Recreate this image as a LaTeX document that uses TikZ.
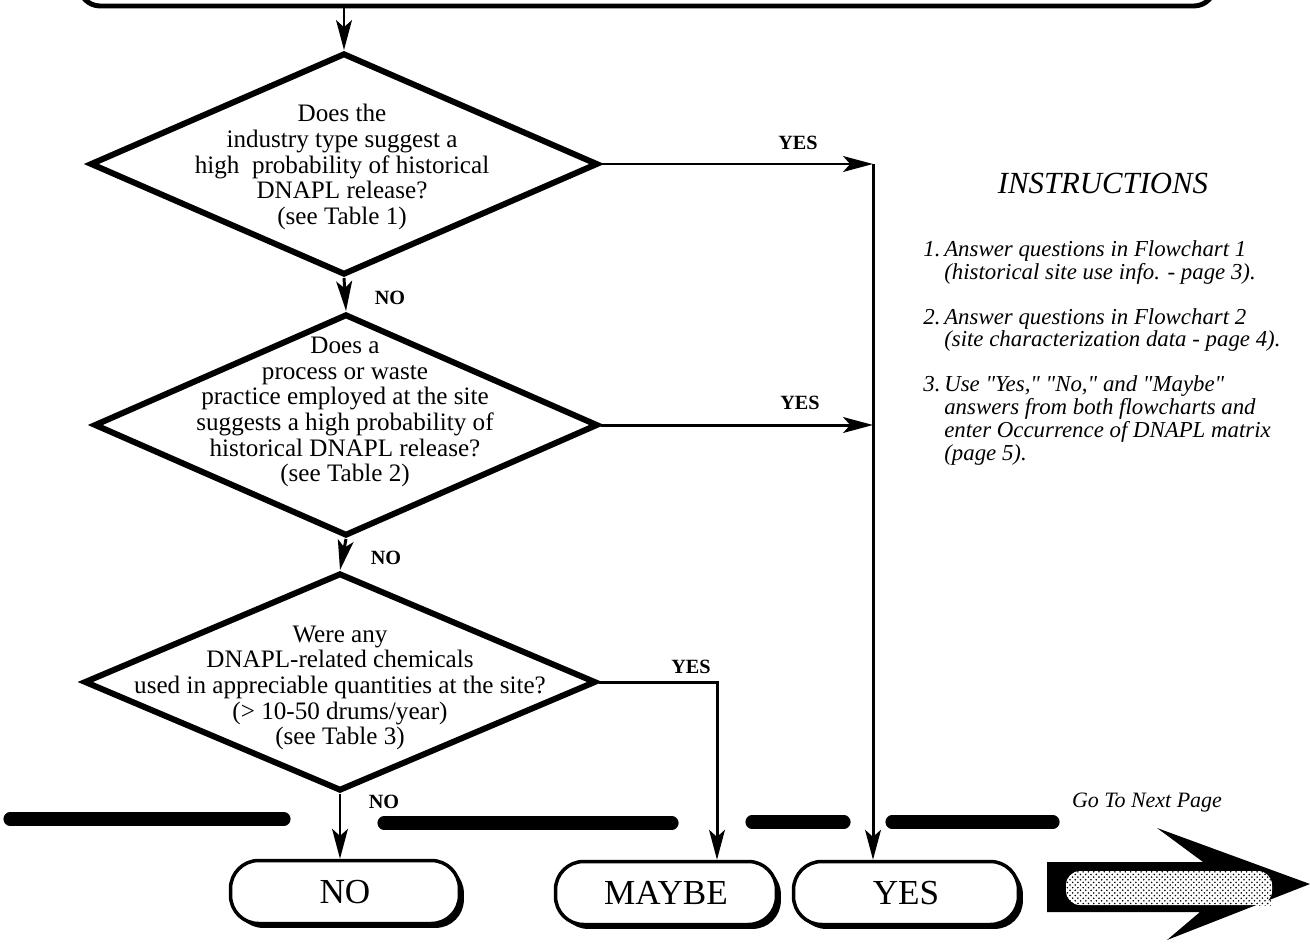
\documentclass[tikz,border=0pt]{standalone}
\usepackage{fontspec}
\setmainfont{Liberation Serif}
\usetikzlibrary{shapes.geometric,arrows.meta,shadows,patterns}

\tikzset{
  decision/.style={diamond, draw, line width=3.4pt, inner sep=0pt},
  qtext/.style={align=center, font=\fontsize{14.3}{14.6}\selectfont},
  outcome/.style={rectangle, rounded corners=16pt, draw, line width=2pt, fill=white,
    minimum height=1.26cm, font=\fontsize{20}{24}\selectfont,
    drop shadow={shadow xshift=2.5pt, shadow yshift=-2.5pt, opacity=1, fill=black}},
  flow/.style={line width=1.7pt, -{Stealth[length=17pt,width=9pt,inset=4pt]}},
  ans/.style={font=\bfseries\fontsize{11.5}{13}\selectfont},
  barseg/.style={line width=7.5pt, line cap=round},
}

\begin{document}
\begin{tikzpicture}[x=0.02cm,y=-0.02cm]

        \useasboundingbox (0,0) rectangle (1310,943);

        % Box at the top (cut off)
        \node[draw, line width=2.8pt, rounded corners=12pt, minimum width=22.72cm,
          minimum height=1.2cm] (start) at (647,-24) {};

        % Decisions
        \node[decision, minimum width=10.16cm, minimum height=4.44cm] (d1) at (344,164) {};
        \node[qtext] (q1) at (342,167) {Does the\\ industry type suggest a\\ high~ probability of historical\\ DNAPL release?\\ (see Table 1)};

        \node[decision, minimum width=10.08cm, minimum height=4.44cm] (d2) at (346,425) {};
        \node[qtext] (q2) at (345,412) {Does a\\ process or waste\\ practice employed at the site\\ suggests a high probability of\\ historical DNAPL release?\\ (see Table 2)};

        \node[decision, minimum width=10.24cm, minimum height=4.36cm] (d3) at (340,682) {};
        \node[qtext] (q3) at (340,688) {Were any\\ DNAPL-related chemicals\\ used in appreciable quantities at the site?\\ (> 10-50 drums/year)\\ (see Table 3)};

        % Outcomes
        \node[outcome, minimum width=4.58cm] (no) at (345,892) {NO};
        \node[outcome, minimum width=4.42cm] (maybe) at (666,893) {MAYBE};
        \node[outcome, minimum width=4.5cm] (yes) at (906,893) {YES};

        % Junctions
        \coordinate (yline) at (873,164);
        \coordinate (mline) at (717,682);

        % Arrows
        \draw[flow] (start.south -| d1.north) -- (d1.north);
        \draw[flow] (d1.south) -- (d2.north);
        \draw[flow] (d2.south) -- (d3.north);
        \draw[flow] (d3.south) -- (d3.south |- no.north);
        \draw[flow] (d1.east) -- (yline);
        \draw[flow] (d2.east) -- (yline |- d2.east);
        \draw[flow] (yline) -- (yline |- yes.north);
        \draw[flow] (d3.east) -- (mline) -- (mline |- maybe.north);

        % Labels
        \node[ans] (no1) at (390,298) {NO};
        \node[ans] (no2) at (386,558) {NO};
        \node[ans] (no3) at (384,802) {NO};
        \node[ans] (yes1) at (798,143) {YES};
        \node[ans] (yes2) at (800,403) {YES};
        \node[ans] (yes3) at (691,667) {YES};

        % Broken bar
        \foreach \xa/\xb/\yy in {10/284/819, 384/672/823, 752/844/822, 892/1053/822}
            \draw[barseg] (\xa,\yy) -- (\xb,\yy);

        % Instructions
        \node[font=\itshape\fontsize{17.5}{19}\selectfont] (instr) at (1103,183) {INSTRUCTIONS};
        \node[anchor=north west, inner sep=0pt, font=\itshape\fontsize{13}{12.8}\selectfont] (steps) at (923,240) {%
          \begin{tabular}{@{}l@{\,}l@{}}
          1. & Answer questions in Flowchart 1\\
             & (historical site use info. - page 3).\\[12.8pt]
          2. & Answer questions in Flowchart 2\\
             & (site characterization data - page 4).\\[12.8pt]
          3. & Use \textquotedbl Yes,\textquotedbl{} \textquotedbl No,\textquotedbl{} and \textquotedbl Maybe\textquotedbl\\
             & answers from both flowcharts and\\
             & enter Occurrence of DNAPL matrix\\
             & (page 5).
          \end{tabular}};

        % Next page arrow
        \node[font=\itshape\fontsize{12.5}{14}\selectfont] (next) at (1147,803) {Go To Next Page};
        \fill (1047,862) -- (1203,862) -- (1157,828) -- (1310,884) -- (1167,940)
          -- (1200,912) -- (1047,912) -- cycle;
        \fill[white, rounded corners=8pt] (1066,871) rectangle (1272,905);
        \fill[pattern=crosshatch dots, pattern color=black] (1066,871) rectangle (1272,905);

    \end{tikzpicture}
\end{document}
